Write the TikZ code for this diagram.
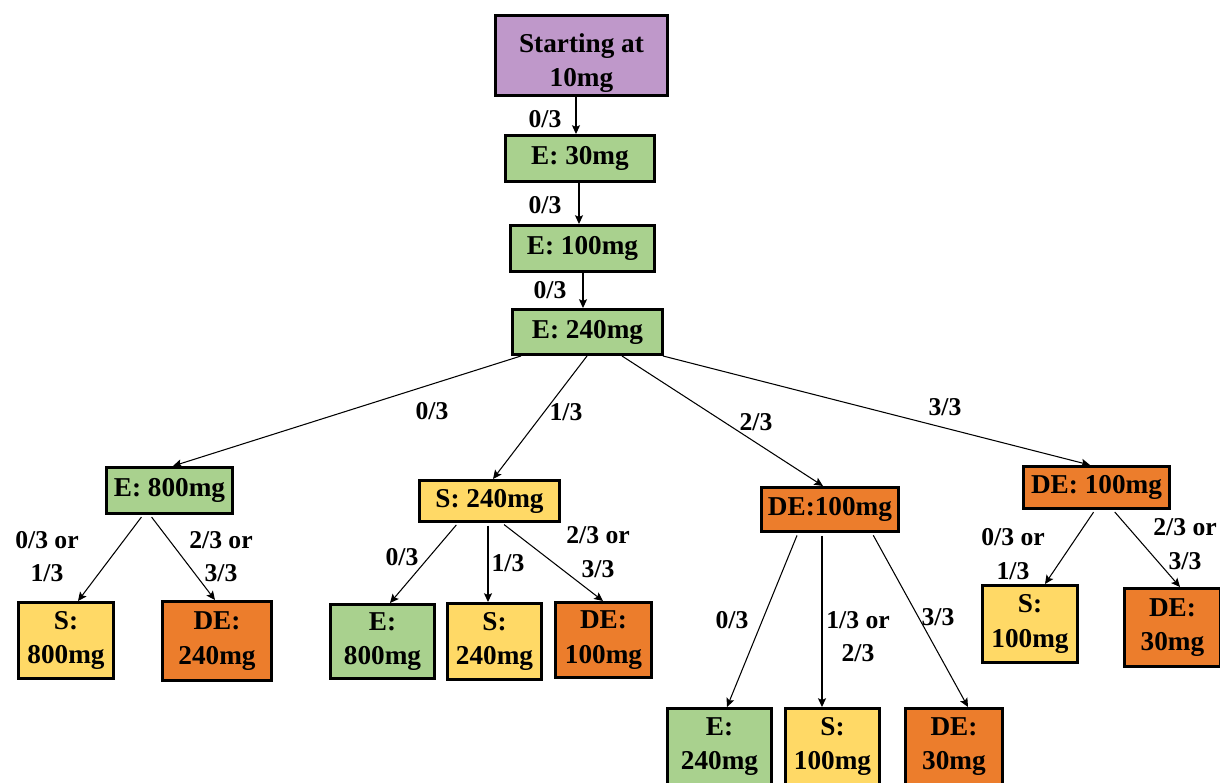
\documentclass[tikz,border=0pt]{standalone}
\usepackage{fontspec}
\setmainfont{Liberation Serif}
\usetikzlibrary{arrows.meta}

\definecolor{startpurple}{RGB}{191,152,202}
\definecolor{escgreen}{RGB}{169,209,142}
\definecolor{stayyellow}{RGB}{255,217,102}
\definecolor{deorange}{RGB}{236,125,44}

\tikzset{
  box/.style={draw=black, line width=1.7pt, inner sep=0pt, align=center,
    font=\fontsize{15.5}{19.5}\selectfont\bfseries, text=black},
  ebox/.style={box, fill=escgreen},
  sbox/.style={box, fill=stayyellow},
  dbox/.style={box, fill=deorange},
  boxtext/.style={inner sep=0pt, align=center,
    font=\fontsize{15.5}{19}\selectfont\bfseries},
  lbl/.style={inner sep=0pt, align=center,
    font=\fontsize{14.6}{19}\selectfont\bfseries},
  link/.style={line width=0.6pt, -{Stealth[length=5pt,width=4.6pt,inset=1pt]}},
  lowgap/.style={shorten <=1.5pt},
}

\begin{document}
\begin{tikzpicture}[x=0.02cm, y=-0.02cm]
\useasboundingbox (0,0) rectangle (1220,783);
\clip (0,0) rectangle (1220,783);

% dose boxes (centre, then size in picture units)
\node[box, fill=startpurple, minimum width=3.44cm, minimum height=1.6cm] (start) at (581.5,55.5) {};
\node[boxtext] (starttext) at (581.5,63) {Starting at\\10mg};
\node[ebox, minimum width=2.98cm, minimum height=0.92cm] (e30)  at (580,158.5) {E: 30mg};
\node[ebox, minimum width=2.88cm, minimum height=0.92cm] (e100) at (582.5,248.5) {E: 100mg};
\node[ebox, minimum width=3.0cm, minimum height=0.9cm] (e240) at (587.5,332) {E: 240mg};

\node[ebox, minimum width=2.52cm, minimum height=0.92cm] (e800) at (169.5,490.5) {E: 800mg};
\node[sbox, minimum width=2.8cm, minimum height=0.82cm] (s240) at (489.5,501) {S: 240mg};
\node[dbox, minimum width=2.74cm, minimum height=0.88cm] (demid) at (830,509.5) {DE:100mg};
\node[dbox, minimum width=2.92cm, minimum height=0.84cm] (deright) at (1096.5,487.5) {DE: 100mg};

\node[sbox, minimum width=1.9cm, minimum height=1.52cm] (s800)  at (66,640.5) {S:\\800mg};
\node[dbox, minimum width=2.18cm, minimum height=1.58cm] (de240) at (217,641) {DE:\\240mg};

\node[ebox, minimum width=2.08cm, minimum height=1.48cm] (e800b)  at (382.5,641.5) {E:\\800mg};
\node[sbox, minimum width=1.88cm, minimum height=1.52cm] (s240b)  at (494.5,641.5) {S:\\240mg};
\node[dbox, minimum width=1.92cm, minimum height=1.5cm]  (de100b) at (603.5,640) {DE:\\100mg};

\node[ebox, minimum width=2.08cm, minimum height=1.52cm] (e240b) at (719.5,746.5) {E:\\240mg};
\node[sbox, minimum width=1.88cm, minimum height=1.52cm] (s100b) at (832.5,746.5) {S:\\100mg};
\node[dbox, minimum width=1.94cm, minimum height=1.52cm] (de30b) at (954,746.5) {DE:\\30mg};

\node[sbox, minimum width=1.9cm, minimum height=1.54cm] (s100r) at (1030,624) {S:\\100mg};
\node[dbox, minimum width=1.92cm, minimum height=1.56cm] (de30r) at (1172.5,627.5) {DE:\\30mg};

% escalation chain
\draw[link] (start.south -| 576,0) -- (e30.north -| 576,0);
\draw[link] (e30.south -| 579,0) -- (e100.north -| 579,0);
\draw[link] (e100.south -| 583,0) -- (e240.north -| 583,0);

% branches from 240mg
\draw[link] (e240.south -| 521,0) -- (e800.north -| 173,0);
\draw[link] (e240.south -| 587,0) -- (s240.north -| 493,0);
\draw[link] (e240.south -| 622,0) -- (demid.north -| 823,0);
\draw[link] (e240.south -| 663,0) -- (deright.north -| 1090,0);

% third level
\draw[link, lowgap] (e800.south -| 143,0) -- (s800.north -| 78,0);
\draw[link, lowgap] (e800.south -| 150,0) -- (de240.north -| 215,0);

\draw[link, lowgap] (s240.south -| 458,0) -- (e800b.north -| 390,0);
\draw[link, lowgap] (s240.south -| 488,0) -- (s240b.north -| 488,0);
\draw[link, lowgap] (s240.south -| 502,0) -- (de100b.north -| 603,0);

\draw[link, lowgap] (demid.south -| 798,0) -- (e240b.north -| 727,0);
\draw[link, lowgap] (demid.south -| 822,0) -- (s100b.north -| 822,0);
\draw[link, lowgap] (demid.south -| 872,0) -- (de30b.north -| 968,0);

\draw[link, lowgap] (deright.south -| 1095,0) -- (s100r.north -| 1045,0);
\draw[link, lowgap] (deright.south -| 1113,0) -- (de30r.north -| 1180,0);

% outcome labels
\node[lbl] (l1)  at (545,119) {0/3};
\node[lbl] (l2)  at (545,205) {0/3};
\node[lbl] (l3)  at (550,290) {0/3};
\node[lbl] (l4)  at (432,411) {0/3};
\node[lbl] (l5)  at (566,412) {1/3};
\node[lbl] (l6)  at (756,422) {2/3};
\node[lbl] (l7)  at (945,407) {3/3};
\node[lbl] (l8)  at (47,556.5) {0/3 or\\1/3};
\node[lbl] (l9)  at (221,556.5) {2/3 or\\3/3};
\node[lbl] (l10) at (402,557) {0/3};
\node[lbl] (l11) at (508,563) {1/3};
\node[lbl] (l12) at (598,552) {2/3 or\\3/3};
\node[lbl] (l13) at (732,620) {0/3};
\node[lbl] (l14) at (858,636.5) {1/3 or\\2/3};
\node[lbl] (l15) at (938,617) {3/3};
\node[lbl] (l16) at (1013,554) {0/3 or\\1/3};
\node[lbl] (l17) at (1185,544) {2/3 or\\3/3};
\end{tikzpicture}
\end{document}
